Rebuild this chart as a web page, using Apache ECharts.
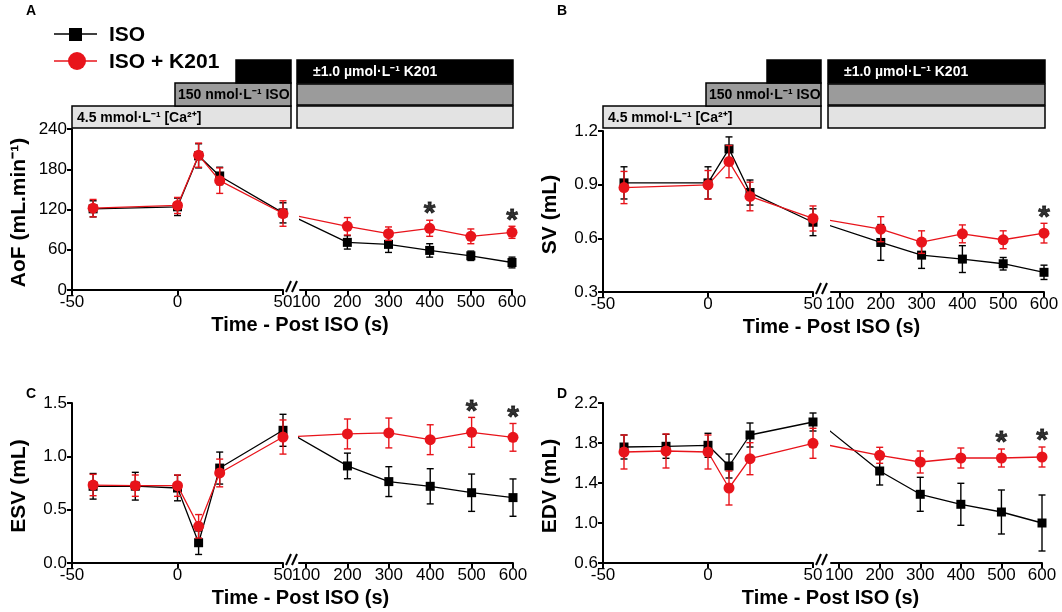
<!DOCTYPE html>
<html><head><meta charset="utf-8">
<script src="https://cdn.jsdelivr.net/npm/echarts@6/dist/echarts.min.js"></script>
<style>html,body{margin:0;padding:0;background:#fff}#c{width:1062px;height:612px}</style>
</head><body><div id="c"></div><script>
// ---------- data ----------
const tLeftAB = [-40, 0, 10, 20, 50];
const tLeftCD = [-40, -20, 0, 10, 20, 50];
const tRight = [200, 300, 400, 500, 600];
const rightTicks = [100, 200, 300, 400, 500, 600];

// A: AoF (mL.min-1)
const aofIsoL = [121, 124, 200, 170, 115];
const aofIsoErrL = [12, 13, 18, 13, 15];
const aofIsoR = [71, 68, 59, 51, 41];
const aofIsoErrR = [10, 12, 10, 7, 8];
const aofK201L = [122, 126, 201, 163, 114];
const aofK201ErrL = [13, 12, 18, 19, 19];
const aofK201R = [95, 84, 92, 80, 86];
const aofK201ErrR = [13, 10, 12, 11, 9];
const aofStars = [400, 600];

// B: SV (mL)
const svIsoL = [0.91, 0.91, 1.10, 0.856, 0.69];
const svIsoErrL = [0.09, 0.09, 0.067, 0.07, 0.075];
const svIsoR = [0.577, 0.506, 0.484, 0.458, 0.41];
const svIsoErrR = [0.10, 0.074, 0.075, 0.035, 0.04];
const svK201L = [0.884, 0.899, 1.029, 0.834, 0.711];
const svK201ErrL = [0.09, 0.08, 0.09, 0.08, 0.07];
const svK201R = [0.651, 0.579, 0.625, 0.592, 0.629];
const svK201ErrR = [0.07, 0.063, 0.05, 0.05, 0.055];
const svStars = [600];

// C: ESV (mL)
const esvIsoL = [0.719, 0.72, 0.703, 0.19, 0.89, 1.244];
const esvIsoErrL = [0.12, 0.13, 0.12, 0.11, 0.15, 0.15];
const esvIsoR = [0.91, 0.763, 0.719, 0.659, 0.613];
const esvIsoErrR = [0.12, 0.14, 0.165, 0.175, 0.175];
const esvK201L = [0.731, 0.725, 0.725, 0.344, 0.844, 1.181];
const esvK201ErrL = [0.1, 0.1, 0.1, 0.11, 0.13, 0.16];
const esvK201R = [1.21, 1.219, 1.156, 1.225, 1.178];
const esvK201ErrR = [0.14, 0.14, 0.14, 0.14, 0.13];
const esvStars = [500, 600];

// D: EDV (mL)
const edvIsoL = [1.76, 1.767, 1.777, 1.57, 1.88, 2.01];
const edvIsoErrL = [0.12, 0.12, 0.12, 0.12, 0.12, 0.09];
const edvIsoR = [1.52, 1.287, 1.187, 1.11, 1.0];
const edvIsoErrR = [0.14, 0.17, 0.21, 0.22, 0.28];
const edvK201L = [1.71, 1.72, 1.71, 1.35, 1.643, 1.797];
const edvK201ErrL = [0.17, 0.17, 0.17, 0.17, 0.16, 0.15];
const edvK201R = [1.677, 1.61, 1.65, 1.65, 1.66];
const edvK201ErrR = [0.08, 0.11, 0.10, 0.09, 0.10];
const edvStars = [500, 600];

const yTicksA = [0, 60, 120, 180, 240];
const yTicksB = [0.3, 0.6, 0.9, 1.2];
const yTicksC = [0.0, 0.5, 1.0, 1.5];
const yTicksD = [0.6, 1.0, 1.4, 1.8, 2.2];

// ---------- layout ----------
const FONT = 'Liberation Sans, Arial, Helvetica, sans-serif';
const panels = [
  {letter:'A', title:'AoF (mL.min\u207B\u00B9)', tL:tLeftAB, isoL:aofIsoL, isoEL:aofIsoErrL, isoR:aofIsoR, isoER:aofIsoErrR,
   kL:aofK201L, kEL:aofK201ErrL, kR:aofK201R, kER:aofK201ErrR, stars:aofStars, yt:yTicksA, dec:0,
   gl:{left:72, top:129, width:211, height:161}, gr:{left:300, top:129, width:212, height:161}, rMin:85, top:true},
  {letter:'B', title:'SV (mL)', tL:tLeftAB, isoL:svIsoL, isoEL:svIsoErrL, isoR:svIsoR, isoER:svIsoErrR,
   kL:svK201L, kEL:svK201ErrL, kR:svK201R, kER:svK201ErrR, stars:svStars, yt:yTicksB, dec:1,
   gl:{left:603, top:131, width:210, height:161}, gr:{left:831, top:131, width:213, height:161}, rMin:78, top:true},
  {letter:'C', title:'ESV (mL)', tL:tLeftCD, isoL:esvIsoL, isoEL:esvIsoErrL, isoR:esvIsoR, isoER:esvIsoErrR,
   kL:esvK201L, kEL:esvK201ErrL, kR:esvK201R, kER:esvK201ErrR, stars:esvStars, yt:yTicksC, dec:1,
   gl:{left:72, top:403, width:211, height:160}, gr:{left:299, top:403, width:214, height:160}, rMin:83, top:false},
  {letter:'D', title:'EDV (mL)', tL:tLeftCD, isoL:edvIsoL, isoEL:edvIsoErrL, isoR:edvIsoR, isoER:edvIsoErrR,
   kL:edvK201L, kEL:edvK201ErrL, kR:edvK201R, kER:edvK201ErrR, stars:edvStars, yt:yTicksD, dec:1,
   gl:{left:603, top:403, width:210, height:160}, gr:{left:831, top:403, width:211, height:160}, rMin:80, top:false}
];

const BLACK = '#000000', RED = '#e8141b';

function errItem(color){
  return function(params, api){
    const x = api.value(0), lo = api.value(1), hi = api.value(2);
    const a = api.coord([x, lo]), b = api.coord([x, hi]);
    const hw = 3.5, st = {stroke: color, lineWidth: 1.4};
    return {type:'group', children:[
      {type:'line', shape:{x1:a[0], y1:a[1], x2:b[0], y2:b[1]}, style:st},
      {type:'line', shape:{x1:a[0]-hw, y1:a[1], x2:a[0]+hw, y2:a[1]}, style:st},
      {type:'line', shape:{x1:b[0]-hw, y1:b[1], x2:b[0]+hw, y2:b[1]}, style:st}
    ]};
  };
}
const zip = (xs, ys) => xs.map((x, i) => [x, ys[i]]);
const errData = (xs, ys, es) => xs.map((x, i) => [x, ys[i] - es[i], ys[i] + es[i]]);

const grid = [], xAxis = [], yAxis = [], series = [], graphic = [];
const axisLineStyle = {color:'#000', width:2};
const labelStyle = {color:'#000', fontSize:17, fontFamily:FONT};

panels.forEach((p, k) => {
  const gi = k * 2;
  grid.push(Object.assign({}, p.gl), Object.assign({}, p.gr));
  const yMin = p.yt[0], yMax = p.yt[p.yt.length - 1], yInt = p.yt[1] - p.yt[0];
  xAxis.push({gridIndex:gi, type:'value', min:-50, max:50, interval:50,
    axisLine:{show:true, onZero:false, lineStyle:axisLineStyle}, axisTick:{show:true, length:5, lineStyle:{width:2, color:'#000'}},
    axisLabel:Object.assign({margin:4}, labelStyle), splitLine:{show:false}});
  xAxis.push({gridIndex:gi+1, type:'value', min:p.rMin, max:600,
    axisLine:{show:true, onZero:false, lineStyle:axisLineStyle},
    axisTick:{show:true, length:5, lineStyle:{width:2, color:'#000'}, customValues:rightTicks},
    axisLabel:Object.assign({margin:4, customValues:rightTicks}, labelStyle), splitLine:{show:false}});
  yAxis.push({gridIndex:gi, type:'value', min:yMin, max:yMax, interval:yInt,
    axisLine:{show:true, onZero:false, lineStyle:axisLineStyle}, axisTick:{show:true, length:5, lineStyle:{width:2, color:'#000'}},
    axisLabel:Object.assign({margin:5, formatter:v => v.toFixed(p.dec)}, labelStyle), splitLine:{show:false}});
  yAxis.push({gridIndex:gi+1, type:'value', min:yMin, max:yMax, interval:yInt, show:false, splitLine:{show:false}});

  const lastL = p.tL[p.tL.length - 1];
  const groups = [
    {name:'ISO', color:BLACK, sym:'rect', size:9, L:p.isoL, EL:p.isoEL, R:p.isoR, ER:p.isoER, z:2},
    {name:'ISO + K201', color:RED, sym:'circle', size:11, L:p.kL, EL:p.kEL, R:p.kR, ER:p.kER, z:4}
  ];
  groups.forEach(g => {
    series.push({type:'custom', xAxisIndex:gi, yAxisIndex:gi, renderItem:errItem(g.color), data:errData(p.tL, g.L, g.EL), z:g.z, silent:true});
    series.push({type:'custom', xAxisIndex:gi+1, yAxisIndex:gi+1, renderItem:errItem(g.color), data:errData(tRight, g.R, g.ER), z:g.z, silent:true});
    series.push({type:'line', name:g.name, xAxisIndex:gi, yAxisIndex:gi, data:zip(p.tL, g.L), symbol:g.sym, symbolSize:g.size,
      showAllSymbol:true, itemStyle:{color:g.color}, lineStyle:{color:g.color, width:1.3}, z:g.z+1, animation:false});
    series.push({type:'line', name:g.name, xAxisIndex:gi+1, yAxisIndex:gi+1, clip:true,
      data:[[lastL, g.L[g.L.length - 1]]].concat(zip(tRight, g.R)), symbol:g.sym, symbolSize:g.size,
      showAllSymbol:true, itemStyle:{color:g.color}, lineStyle:{color:g.color, width:1.3}, z:g.z+1, animation:false});
  });
  // significance stars above the K201 error bar
  series.push({type:'scatter', xAxisIndex:gi+1, yAxisIndex:gi+1, symbolSize:0, z:10,
    data:p.stars.map(s => { const i = tRight.indexOf(s); return [s, p.kR[i] + p.kER[i]]; }),
    label:{show:true, formatter:'*', position:'top', distance:-9, color:'#000', fontSize:30, fontWeight:'bold', fontFamily:FONT,
      textBorderColor:'#000', textBorderWidth:0.8}});

  // text and decorations
  const gl = p.gl, gr = p.gr;
  const axisY = gl.top + gl.height;
  const xL = gl.left + gl.width;
  graphic.push({type:'text', left:gl.left - 46, top:p.top ? 4 : 387, style:{text:p.letter, font:'bold 14px ' + FONT, fill:'#000'}});
  graphic.push({type:'text', x:gl.left - 53, y:gl.top + gl.height / 2 + 3, rotation:Math.PI / 2,
    style:{text:p.title, font:'bold 21px ' + FONT, fill:'#000', textAlign:'center', textVerticalAlign:'middle'}});
  graphic.push({type:'text', x:(gl.left + gr.left + gr.width) / 2 + 8, y:axisY + 35,
    style:{text:'Time - Post ISO (s)', font:'bold 20px ' + FONT, fill:'#000', textAlign:'center', textVerticalAlign:'middle'}});
  [0, 6].forEach(dx => graphic.push({type:'line', shape:{x1:xL + 3 + dx, y1:axisY + 2, x2:xL + 8 + dx, y2:axisY - 9},
    style:{stroke:'#000', lineWidth:2}}));

  if (p.top) {
    const L = gl.left, R = xL + 8, rL = gr.left - 3, rR = gr.left + gr.width + 1;
    const isoX = L + 103, blkX = L + 164;
    const boxes = [
      [L, 106, R - L, 22, '#e3e3e3'], [isoX, 83, R - isoX, 23, '#9b9b9b'], [blkX, 60, R - blkX, 23, '#000'],
      [rL, 60, rR - rL, 23, '#000'], [rL, 84, rR - rL, 21, '#9b9b9b'], [rL, 106, rR - rL, 22, '#e3e3e3']
    ];
    boxes.forEach(b => graphic.push({type:'rect', shape:{x:b[0], y:b[1], width:b[2], height:b[3]},
      style:{fill:b[4], stroke:'#000', lineWidth:1.5}}));
    graphic.push({type:'text', x:L + 5, y:118, style:{text:'4.5 mmol\u00B7L\u207B\u00B9 [Ca\u00B2\u207A]', font:'bold 14px ' + FONT, fill:'#000', textVerticalAlign:'middle'}});
    graphic.push({type:'text', x:isoX + 3, y:95, style:{text:'150 nmol\u00B7L\u207B\u00B9 ISO', font:'bold 14px ' + FONT, fill:'#000', textVerticalAlign:'middle'}});
    graphic.push({type:'text', x:rL + 16, y:72, style:{text:'\u00B11.0 \u00B5mol\u00B7L\u207B\u00B9 K201', font:'bold 14px ' + FONT, fill:'#fff', textVerticalAlign:'middle'}});
  }
});

// legend
graphic.push({type:'line', shape:{x1:54, y1:34, x2:97, y2:34}, style:{stroke:BLACK, lineWidth:1.5}});
graphic.push({type:'rect', shape:{x:69, y:28, width:13, height:13}, style:{fill:BLACK}});
graphic.push({type:'text', x:109, y:35, style:{text:'ISO', font:'bold 21px ' + FONT, fill:'#000', textVerticalAlign:'middle'}});
graphic.push({type:'line', shape:{x1:54, y1:61, x2:97, y2:61}, style:{stroke:RED, lineWidth:1.5}});
graphic.push({type:'circle', shape:{cx:77, cy:61, r:9}, style:{fill:RED}});
graphic.push({type:'text', x:109, y:62, style:{text:'ISO + K201', font:'bold 21px ' + FONT, fill:'#000', textVerticalAlign:'middle'}});

const chart = echarts.init(document.getElementById('c'), null, {renderer:'canvas'});
chart.setOption({animation:false, backgroundColor:'#fff', grid, xAxis, yAxis, series, graphic});
</script></body></html>
